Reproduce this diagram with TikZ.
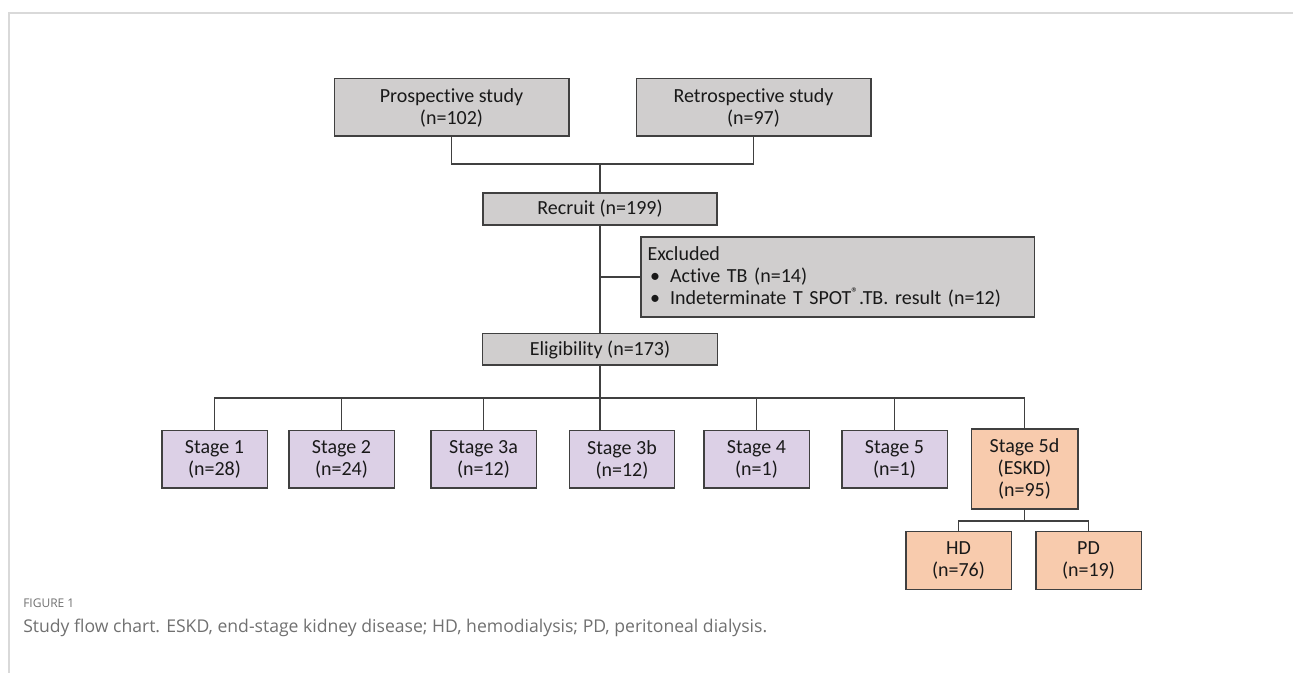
\documentclass[tikz,border=0pt]{standalone}
\usepackage{fontspec}
\setmainfont{Carlito}[Ligatures=NoCommon]
\newfontfamily\capfont{Open Sans}
\usetikzlibrary{positioning}
\definecolor{boxgrey}{HTML}{D0CECE}
\definecolor{stagepurple}{HTML}{DCD0E6}
\definecolor{eskdorange}{HTML}{F8CBAD}
\definecolor{linegrey}{HTML}{404040}
\definecolor{framegrey}{HTML}{D9D9D9}
\definecolor{capgrey}{HTML}{707070}
\newcommand{\exitem}[1]{\hspace*{2pt}\makebox[15pt][l]{\textbullet}#1}

\begin{document}
\begin{tikzpicture}[
              x=0.75pt, y=-0.75pt,
              box/.style={draw=linegrey, line width=1pt, inner sep=0pt, align=center,
                          text=black!90, font=\fontsize{15}{16.5}\selectfont},
              greybox/.style={box, fill=boxgrey},
              stagebox/.style={box, fill=stagepurple, minimum width=79pt, minimum height=43pt},
              eskdbox/.style={box, fill=eskdorange, minimum width=79pt, minimum height=43pt},
              link/.style={draw=linegrey, line width=0.9pt},
              caption/.style={anchor=west, inner sep=0pt, text=capgrey}
            ]
            \useasboundingbox (0,0) rectangle (1293,673);
            % Frame
            \coordinate (frametop) at (1293,13);
            \coordinate (framecorner) at (9,13);
            \coordinate (framebottom) at (9,673);
            \draw[framegrey, line width=1.1pt] (frametop) -- (framecorner) -- (framebottom);

            % Sources
            \node[greybox, minimum width=176pt, minimum height=43pt] (pro) at (451.5,107.5) {Prospective study\\(n=102)};
            \node[greybox, minimum width=176pt, minimum height=43pt] (retro) at (753.5,107.5) {Retrospective study\\(n=97)};
            \coordinate (topbus) at (600,164);

            % Recruit and exclusion
            \node[greybox, minimum width=175.5pt, minimum height=24pt] (recruit) at (600,209) {Recruit (n=199)};
            \node[greybox, minimum height=60pt, text width=285pt, inner xsep=5pt, align=left] (excl) at (837.5,277)
              {Excluded\\\exitem{Active TB (n=14)}\\\exitem{Indeterminate T SPOT\textsuperscript{\textregistered}.TB. result (n=12)}};
            \node[greybox, minimum width=176pt, minimum height=23.5pt] (elig) at (600,349.5) {Eligibility (n=173)};
            \coordinate (stagebus) at (600,398);

            % Stages
            \node[stagebox] (s1) at (214.5,459.5) {Stage 1\\(n=28)};
            \node[stagebox] (s2) at (341.5,459.5) {Stage 2\\(n=24)};
            \node[stagebox] (s3a) at (483.5,459.5) {Stage 3a\\(n=12)};
            \node[stagebox] (s3b) at (622,459.5) {Stage 3b\\(n=12)};
            \node[stagebox] (s4) at (756.5,459.5) {Stage 4\\(n=1)};
            \node[stagebox] (s5) at (894.5,459.5) {Stage 5\\(n=1)};
            \node[eskdbox, minimum width=80pt, minimum height=60pt] (s5d) at (1024.5,469) {Stage 5d\\(ESKD)\\(n=95)};
            \coordinate (dialbus) at (1024.5,521);

            % Dialysis
            \node[eskdbox] (hd) at (958.5,560.5) {HD\\(n=76)};
            \node[eskdbox] (pd) at (1088.5,560.5) {PD\\(n=19)};

            % Connectors
            \draw[link] (pro.south) |- (topbus) -| (retro.south);
            \draw[link] (topbus) -- (recruit.north);
            \draw[link] (recruit.south) -- (elig.north);
            \draw[link] (excl.west) -- (excl.west -| recruit.south);
            \draw[link] (elig.south) -- (stagebus);
            \draw[link] (s1.north) |- (stagebus) -| (s5d.north);
            \foreach \s in {s2,s3a,s4,s5}
              \draw[link] (\s.north) -- (\s.north |- stagebus);
            \draw[link] (stagebus) -- (stagebus |- s3b.north);
            \draw[link] (s5d.south) -- (dialbus);
            \draw[link] (hd.north) |- (dialbus) -| (pd.north);

            % Caption
            \node[caption, font=\capfont\fontsize{9}{11}\selectfont] (figlabel) at (23,603) {FIGURE 1};
            \node[caption, font=\capfont\fontsize{13.2}{15}\selectfont] (figtext) at (23,628)
              {Study flow chart. ESKD, end-stage kidney disease; HD, hemodialysis; PD, peritoneal dialysis.};
            \end{tikzpicture}
\end{document}
